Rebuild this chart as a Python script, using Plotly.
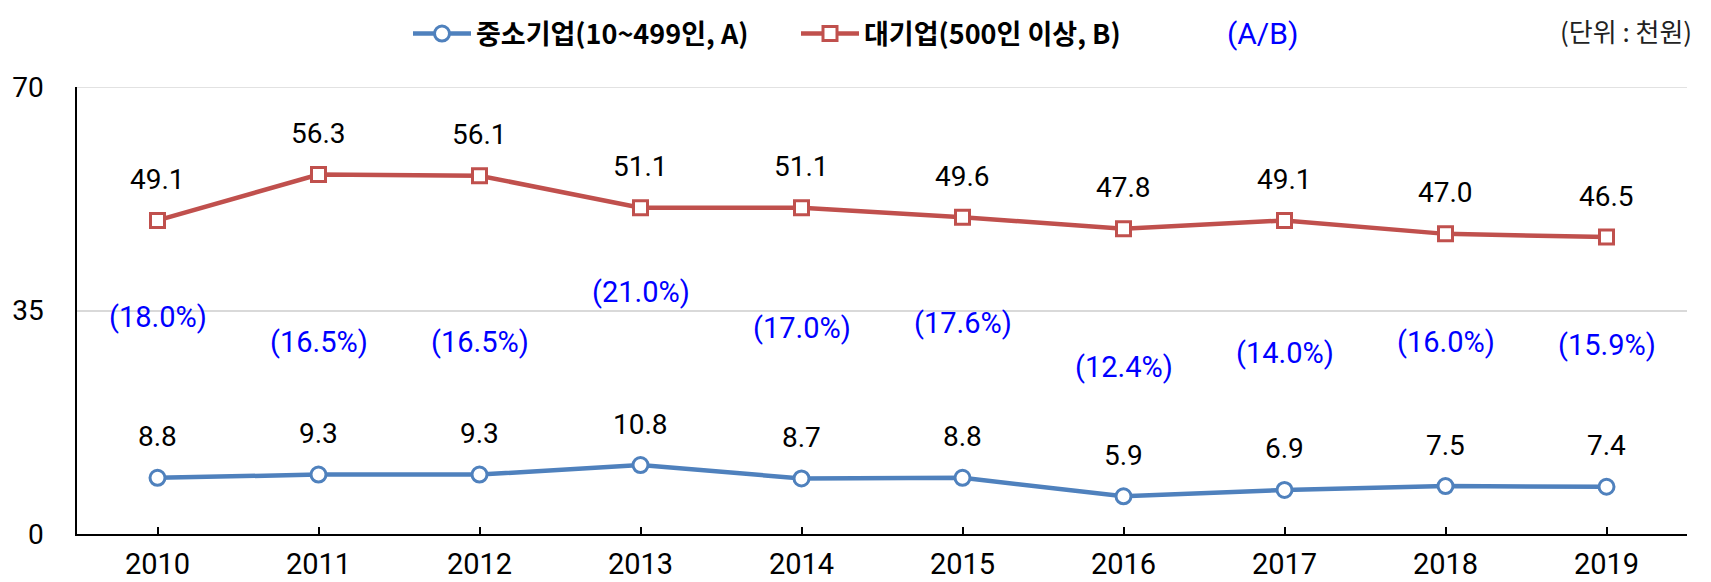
import plotly.graph_objects as go

years = ["2010", "2011", "2012", "2013", "2014", "2015", "2016", "2017", "2018", "2019"]
sme = [8.8, 9.3, 9.3, 10.8, 8.7, 8.8, 5.9, 6.9, 7.5, 7.4]
large = [49.1, 56.3, 56.1, 51.1, 51.1, 49.6, 47.8, 49.1, 47.0, 46.5]
ratio_labels = ["(18.0%)", "(16.5%)", "(16.5%)", "(21.0%)", "(17.0%)",
                "(17.6%)", "(12.4%)", "(14.0%)", "(16.0%)", "(15.9%)"]
# vertical placement of the ratio labels (layout only)
ratio_label_pos = [34.0, 30.1, 30.1, 37.9, 32.3, 33.0, 26.2, 28.3, 30.1, 29.6]
y_ticks = [0, 35, 70]

name_sme = "중소기업(10~499인, A)"
name_large = "대기업(500인 이상, B)"
name_ratio = "(A/B)"
unit_text = "(단위 : 천원)"

BLUE = "#4F81BD"
RED = "#C0504D"
NUM_FONT = "Roboto"
KR_FONT = "Noto Sans CJK KR"

# page body adds an 8px offset; the figure is sized to compensate
OFF = 8
W, H = 1711 - OFF, 582 - OFF
ML, MR, MT, MB = 77 - OFF, 24, 87 - OFF, 48
PW, PH = W - ML - MR, H - MT - MB


def px_x(x):
    return (x - OFF - ML) / PW


def px_y(y):
    return (H - MB - (y - OFF)) / PH


xs = list(range(len(years)))

fig = go.Figure()
fig.add_trace(go.Scatter(
    x=xs, y=sme, name=name_sme, mode="lines+markers",
    line=dict(color=BLUE, width=4.5),
    marker=dict(symbol="circle", size=15, color="white", line=dict(color=BLUE, width=3)),
))
fig.add_trace(go.Scatter(
    x=xs, y=large, name=name_large, mode="lines+markers",
    line=dict(color=RED, width=4.5),
    marker=dict(symbol="square", size=14, color="white", line=dict(color=RED, width=3)),
))

annotations = []
for series in (sme, large):
    for i, v in enumerate(series):
        annotations.append(dict(
            x=xs[i], y=v, xref="x", yref="y", text=f"{v:.1f}", showarrow=False,
            yshift=41, font=dict(family=NUM_FONT, size=28, color="black"),
        ))
for i, t in enumerate(ratio_labels):
    annotations.append(dict(
        x=xs[i], y=ratio_label_pos[i], xref="x", yref="y", text=t, showarrow=False,
        font=dict(family=NUM_FONT, size=29, color="#0000FF"),
    ))
annotations.append(dict(
    x=px_x(1262), y=px_y(34), xref="paper", yref="paper", text=name_ratio,
    showarrow=False, xanchor="center", yanchor="middle",
    font=dict(family=NUM_FONT, size=30, color="#0000FF"),
))
annotations.append(dict(
    x=px_x(1694), y=px_y(30), xref="paper", yref="paper", text=unit_text,
    showarrow=False, xanchor="right", yanchor="middle",
    font=dict(family=KR_FONT, size=26, color="#222222"),
))

shapes = [dict(type="line", xref="paper", yref="y", x0=0, x1=1, y0=70, y1=70,
               line=dict(color="#D9D9D9", width=1.5), layer="below")]

fig.update_layout(
    width=W, height=H,
    margin=dict(l=ML, r=MR, t=MT, b=MB, autoexpand=False),
    paper_bgcolor="white", plot_bgcolor="white",
    showlegend=True,
    legend=dict(
        orientation="h", x=px_x(408), xanchor="left", y=px_y(34), yanchor="middle",
        font=dict(family=KR_FONT, size=27, color="black", weight="bold"),
        itemwidth=58, entrywidth=315, bgcolor="rgba(0,0,0,0)",
    ),
    xaxis=dict(
        range=[-0.5, len(years) - 0.5], automargin=False,
        tickvals=xs + [len(years) - 0.5], ticktext=years + [""],
        ticks="inside", ticklen=7, tickcolor="black", tickwidth=1.5,
        showline=True, linecolor="black", linewidth=1.5,
        showgrid=False, zeroline=False, ticklabelstandoff=3,
        tickfont=dict(family=NUM_FONT, size=29, color="black"),
    ),
    yaxis=dict(
        range=[0, 70], tickvals=y_ticks, automargin=False,
        showline=True, linecolor="black", linewidth=1.5,
        showgrid=True, gridcolor="#D9D9D9", gridwidth=1.5,
        zeroline=False, ticks="", ticklabelstandoff=26,
        tickfont=dict(family=NUM_FONT, size=28, color="black"),
    ),
    annotations=annotations,
    shapes=shapes,
)

fig.write_html("out.html")
